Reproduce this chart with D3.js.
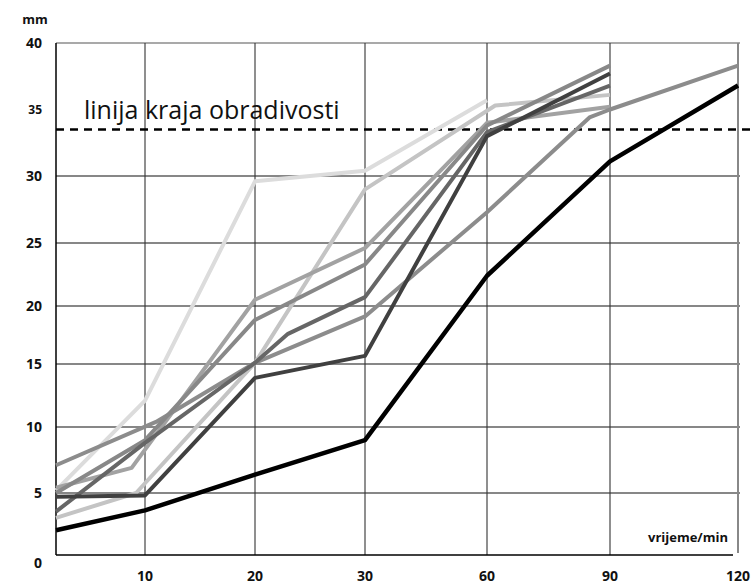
<!DOCTYPE html>
<html>
<head>
<meta charset="utf-8">
<script src="https://cdn.jsdelivr.net/npm/d3@7"></script>
<style>
  body { margin: 0; background: #fff; }
  svg { display: block; }
  text { font-family: "Open Sans", "Noto Sans", sans-serif; }
  .tick-label { font-weight: 700; font-size: 14px; fill: #111; }
</style>
</head>
<body>
<div id="chart"></div>
<script>
// ---- data ----
var timeTicks = [0, 10, 20, 30, 60, 90, 120];
var xLabels = [10, 20, 30, 60, 90, 120];
var mmTicks = [0, 5, 10, 15, 20, 25, 30, 35, 40];
var gridMm = [5, 10, 15, 20, 25, 30, 40];
var limitMm = 33.5;

// each sample: [time in min, mm]
var sampleLightest = [[0, 5.2], [10, 12.1], [20, 29.6], [30, 30.4], [60, 35.7]];
var sampleLight = [[0, 3.0], [9, 5.0], [20, 15.1], [30, 29.0], [62, 35.3], [90, 36.1]];
var sampleGrayA = [[0, 5.4], [8.5, 6.9], [20, 20.5], [30, 24.6], [60, 34.0], [90, 35.2]];
var sampleGrayB = [[0, 7.1], [11, 10.4], [20, 15.1], [30, 19.1], [60, 27.3], [85, 34.4], [90, 35.0], [120, 38.3]];
var sampleGrayC = [[0, 5.0], [10, 9.0], [20, 18.8], [30, 23.3], [60, 33.8], [90, 38.3]];
var sampleDarkA = [[0, 3.5], [10, 8.8], [20, 15.1], [23, 17.6], [30, 20.7], [60, 33.3], [90, 36.8]];
var sampleDarkB = [[0, 4.7], [10, 4.8], [20, 13.9], [30, 15.7], [60, 33.0], [90, 37.7]];
var sampleBlack = [[0, 2.0], [10, 3.6], [20, 6.4], [30, 9.0], [60, 22.4], [90, 31.1], [120, 36.8]];

var series = [
  { values: sampleLightest, color: "#dcdcdc", width: 4 },
  { values: sampleLight, color: "#c4c4c4", width: 4 },
  { values: sampleGrayA, color: "#a2a2a2", width: 4 },
  { values: sampleGrayB, color: "#8c8c8c", width: 4 },
  { values: sampleGrayC, color: "#888888", width: 4 },
  { values: sampleDarkA, color: "#666666", width: 4 },
  { values: sampleDarkB, color: "#404040", width: 4 },
  { values: sampleBlack, color: "#000000", width: 4.5 }
];

// ---- layout ----
var svgWidth = 751;
var svgHeight = 584;
// the axes of the original are not evenly spaced, so the scales are piecewise
var xStops = [56, 145, 255, 365, 487, 610, 738];
var yStops = [555, 493, 427, 364, 306, 243, 176, 43];

var svg = d3.select("#chart").append("svg")
  .attr("width", svgWidth)
  .attr("height", svgHeight);

var x = d3.scaleLinear().domain(timeTicks).range(xStops);
var y = d3.scaleLinear().domain([0, 5, 10, 15, 20, 25, 30, 40]).range(yStops);

var plotLeft = x(0), plotRight = x(120), plotTop = y(40), plotBottom = y(0);

// horizontal grid
svg.append("g").selectAll("line")
  .data(gridMm)
  .enter().append("line")
  .attr("x1", plotLeft).attr("x2", plotRight + 2)
  .attr("y1", d => y(d)).attr("y2", d => y(d))
  .attr("stroke", d => d === 40 ? "#555" : "#111")
  .attr("stroke-width", 1.2);

// vertical grid
svg.append("g").selectAll("line")
  .data(xLabels.filter(d => d !== 120))
  .enter().append("line")
  .attr("x1", d => x(d)).attr("x2", d => x(d))
  .attr("y1", plotTop).attr("y2", plotBottom)
  .attr("stroke", "#333")
  .attr("stroke-width", 1.1);

// right border
svg.append("line")
  .attr("x1", plotRight).attr("x2", plotRight)
  .attr("y1", plotTop).attr("y2", plotBottom - 2)
  .attr("stroke", "#888").attr("stroke-width", 2);

// axes lines
svg.append("line")
  .attr("x1", plotLeft).attr("x2", plotLeft)
  .attr("y1", plotTop).attr("y2", plotBottom)
  .attr("stroke", "#000").attr("stroke-width", 1.5);
svg.append("line")
  .attr("x1", plotLeft).attr("x2", plotRight - 5)
  .attr("y1", plotBottom).attr("y2", plotBottom)
  .attr("stroke", "#000").attr("stroke-width", 1.5);

// limit line
svg.append("line")
  .attr("x1", plotLeft).attr("x2", svgWidth)
  .attr("y1", y(limitMm)).attr("y2", y(limitMm))
  .attr("stroke", "#000")
  .attr("stroke-width", 2.5)
  .attr("stroke-dasharray", "8,6");

svg.append("text")
  .attr("x", 84)
  .attr("y", y(limitMm) - 10)
  .attr("font-size", 25)
  .attr("fill", "#111")
  .text("linija kraja obradivosti");

// series
var line = d3.line()
  .x(d => x(d[0]))
  .y(d => y(d[1]));

svg.append("g").selectAll("path")
  .data(series)
  .enter().append("path")
  .attr("d", d => line(d.values))
  .attr("fill", "none")
  .attr("stroke", d => d.color)
  .attr("stroke-width", d => d.width)
  .attr("stroke-linejoin", "round");

// y labels
svg.append("g").selectAll("text")
  .data(mmTicks)
  .enter().append("text")
  .attr("class", "tick-label")
  .attr("x", 42)
  .attr("y", d => d === 0 ? y(0) + 8 : y(d))
  .attr("dy", "0.35em")
  .attr("text-anchor", "end")
  .style("font-size", d => d === 35 ? "12px" : "14px")
  .text(d => d);

// x labels
svg.append("g").selectAll("text")
  .data(xLabels)
  .enter().append("text")
  .attr("class", "tick-label")
  .attr("x", d => x(d))
  .attr("y", 576)
  .attr("dy", "0.35em")
  .attr("text-anchor", "middle")
  .text(d => d);

// axis titles
svg.append("text")
  .attr("class", "tick-label")
  .attr("x", 35).attr("y", 19)
  .attr("dy", "0.35em")
  .attr("text-anchor", "middle")
  .style("font-size", "13px")
  .text("mm");

svg.append("text")
  .attr("class", "tick-label")
  .attr("x", 728).attr("y", 542)
  .attr("text-anchor", "end")
  .style("font-size", "13px")
  .text("vrijeme/min");
</script>
</body>
</html>
